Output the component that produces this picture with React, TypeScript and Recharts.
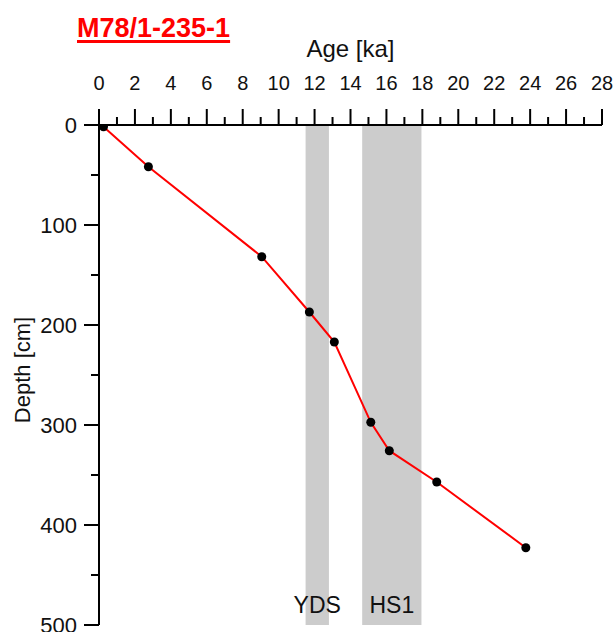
import * as React from "react";
import {
  LineChart,
  Line,
  XAxis,
  YAxis,
  ReferenceArea,
} from "recharts";

const FONT = '"Liberation Sans", Arial, sans-serif';

// age model tie points
const AGES = [0.25, 2.75, 9.06, 11.71, 13.1, 15.13, 16.16, 18.8, 23.76];
const DEPTHS = [1.7, 41.7, 131.7, 187, 217, 297.3, 325.7, 357, 422.7];

// climate event intervals (ka)
const EVENTS = ["YDS", "HS1"];
const EVENT_START = [11.5, 14.65];
const EVENT_END = [12.8, 17.95];

const AGE_TICKS = [0, 1, 2, 3, 4, 5, 6, 7, 8, 9, 10, 11, 12, 13, 14, 15, 16, 17, 18, 19, 20, 21, 22, 23, 24, 25, 26, 27, 28];
const AGE_LABELS = [0, 2, 4, 6, 8, 10, 12, 14, 16, 18, 20, 22, 24, 26, 28];
const DEPTH_TICKS = [0, 50, 100, 150, 200, 250, 300, 350, 400, 450, 500];
const DEPTH_LABELS = [0, 100, 200, 300, 400, 500];

const data = AGES.map((age, i) => ({ age, depth: DEPTHS[i] }));

const TICK_SIZE = 15;
const TICK_MARGIN = 5;

function AgeTick(props: any) {
  const { x, y, payload } = props;
  const axisY = y + TICK_SIZE + TICK_MARGIN;
  const major = AGE_LABELS.includes(payload.value);
  const len = major ? 16 : 8;
  return (
    <g>
      <line x1={x} x2={x} y1={axisY} y2={axisY - len} stroke="#000" strokeWidth={2} />
      {major && (
        <text x={x} y={axisY - 35} textAnchor="middle" fontSize={20} fontFamily={FONT} fill="#111">
          {payload.value}
        </text>
      )}
    </g>
  );
}

function DepthTick(props: any) {
  const { x, y, payload } = props;
  const axisX = x + TICK_SIZE + TICK_MARGIN;
  const major = DEPTH_LABELS.includes(payload.value);
  const len = major ? 15 : 8;
  return (
    <g>
      <line x1={axisX} x2={axisX - len} y1={y} y2={y} stroke="#000" strokeWidth={2} />
      {major && (
        <text x={axisX - 22} y={y} dy="0.36em" textAnchor="end" fontSize={22} fontFamily={FONT} fill="#111">
          {payload.value}
        </text>
      )}
    </g>
  );
}

function DepthLabel(props: any) {
  const { viewBox } = props;
  const cx = viewBox.x + 3;
  const cy = viewBox.y + viewBox.height / 2 - 5;
  return (
    <text
      x={cx}
      y={cy}
      transform={`rotate(-90, ${cx}, ${cy})`}
      textAnchor="middle"
      dominantBaseline="central"
      fontSize={22}
      fontFamily={FONT}
      fill="#111"
    >
      Depth [cm]
    </text>
  );
}

export default function App() {
  return (
    <div style={{ position: "absolute", left: 0, top: 0, width: 614, height: 632, background: "#fff" }}>
      <div
        style={{
          position: "absolute",
          left: 77,
          top: 15,
          lineHeight: "27px",
          fontFamily: FONT,
          fontWeight: "bold",
          fontSize: 27,
          color: "#ff0000",
          textDecoration: "underline",
          textDecorationThickness: "3px",
          textUnderlineOffset: "3px",
          zIndex: 2,
        }}
      >
        M78/1-235-1
      </div>
      <LineChart
        width={614}
        height={632}
        data={data}
        margin={{ top: 35, right: 12, bottom: 7, left: 19 }}
      >
        {EVENTS.map((name, i) => (
          <ReferenceArea
            key={name}
            x1={EVENT_START[i]}
            x2={EVENT_END[i]}
            y1={0}
            y2={500}
            fill="#cccccc"
            fillOpacity={1}
            stroke="none"
            label={{
              value: name,
              position: "insideBottom",
              offset: 12,
              fontSize: 23,
              fontFamily: FONT,
              fill: "#111",
            }}
          />
        ))}
        <XAxis
          dataKey="age"
          type="number"
          orientation="top"
          domain={[0, 28]}
          ticks={AGE_TICKS}
          interval={0}
          height={90}
          tickSize={TICK_SIZE}
          tickMargin={TICK_MARGIN}
          tickLine={false}
          axisLine={{ stroke: "#000", strokeWidth: 2 }}
          tick={<AgeTick />}
          allowDataOverflow
          label={{
            value: "Age [ka]",
            position: "insideTop",
            offset: 5,
            fontSize: 24,
            fontFamily: FONT,
            fill: "#111",
          }}
        />
        <YAxis
          type="number"
          reversed
          domain={[0, 500]}
          ticks={DEPTH_TICKS}
          interval={0}
          width={80}
          tickSize={TICK_SIZE}
          tickMargin={TICK_MARGIN}
          tickLine={false}
          axisLine={{ stroke: "#000", strokeWidth: 2 }}
          tick={<DepthTick />}
          allowDataOverflow
          label={<DepthLabel />}
        />
        <Line
          type="linear"
          dataKey="depth"
          stroke="#ff0000"
          strokeWidth={2}
          dot={{ r: 4.5, fill: "#000", stroke: "none" }}
          activeDot={false}
          isAnimationActive={false}
        />
      </LineChart>
    </div>
  );
}
